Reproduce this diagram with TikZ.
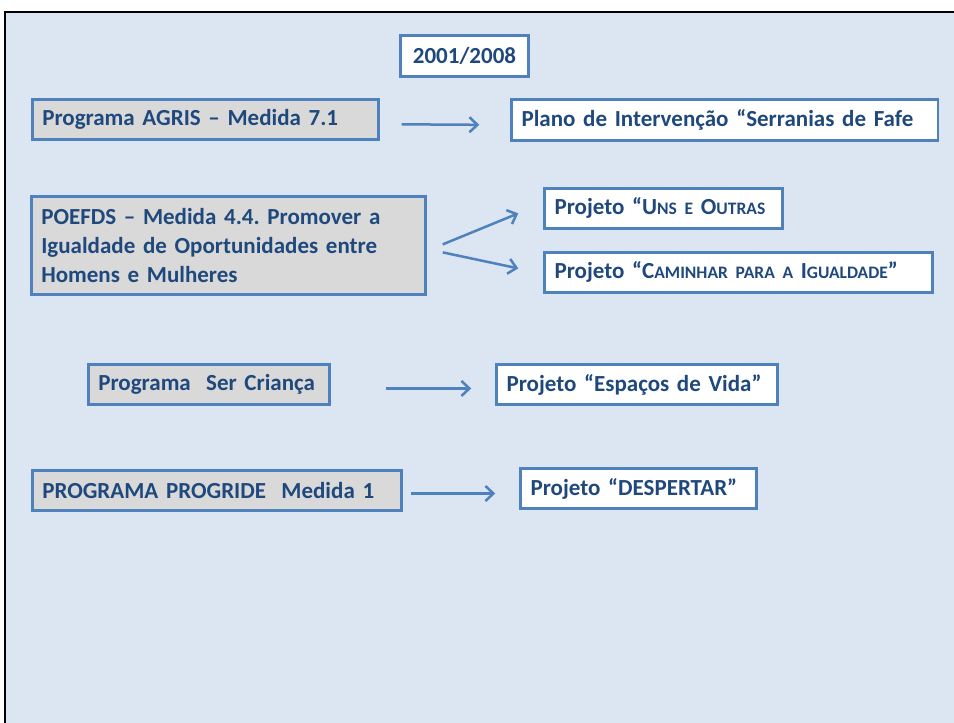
\documentclass[tikz,border=0pt]{standalone}
\usepackage{fontspec}
\setmainfont{Carlito}
\usetikzlibrary{arrows.meta}
\definecolor{slidebg}{HTML}{DCE6F2}
\definecolor{boxline}{HTML}{4F81BD}
\definecolor{txt}{HTML}{1F497D}
\definecolor{gbox}{HTML}{D9D9D9}
\newcommand{\fsc}[1]{{\fontsize{17.5}{20}\selectfont #1}}
\begin{document}
\frenchspacing
\begin{tikzpicture}[x=1pt,y=-1pt,
  bx/.style={draw=boxline, line width=2.5pt, anchor=north west, inner xsep=10pt, inner ysep=0pt,
    font=\bfseries\fontsize{23}{29}\selectfont, text=txt, align=left},
  gb/.style={bx, fill=gbox},
  wb/.style={bx, fill=white},
  arr/.style={draw=boxline, line width=2.5pt, -{Straight Barb[length=8pt,width=15pt]}}]
\useasboundingbox (0,0) rectangle (953.5,722);
\fill[white] (-5,-5) rectangle (965,730);
\fill[slidebg] (5,12) rectangle (965,730);
\draw[black, line width=2pt] (5,730) -- (5,12) -- (965,12);

\node[wb, align=center, text width=108pt, minimum height=41pt] (yr) at (399,34) {2001/2008};

\node[gb, text width=326pt, minimum height=40pt] (agris) at (31,98) {Programa AGRIS – Medida 7.1};
\node[wb, text width=406pt, minimum height=41pt] (plano) at (510,98) {Plano de Intervenção “Serranias de Fafe};

\node[gb, text width=374pt, minimum height=98pt] (poefds) at (30,195) {POEFDS – Medida 4.4. Promover a\\Igualdade de Oportunidades entre\\Homens e Mulheres};
\node[wb, text width=218pt, minimum height=40pt] (uns) at (543,187) {Projeto “U\fsc{NS E} O\fsc{UTRAS}};
\node[wb, text width=368pt, minimum height=40pt] (cam) at (543,251) {Projeto “C\fsc{AMINHAR PARA A} I\fsc{GUALDADE}”};

\node[gb, text width=221pt, minimum height=40pt] (ser) at (87,363) {Programa~~Ser Criança};
\node[wb, text width=261pt, minimum height=40pt] (esp) at (495,363) {Projeto “Espaços de Vida”};

\node[gb, text width=349pt, minimum height=40pt] (prog) at (31,469) {PROGRAMA PROGRIDE~~Medida 1};
\node[wb, text width=216pt, minimum height=40pt] (desp) at (519,467) {Projeto “DESPERTAR”};

\draw[arr] ([shift={(22,5)}]agris.east) -- ([shift={(-31,5)}]plano.west);
\draw[arr] ([shift={(16,-1)}]poefds.east) -- ([shift={(-25,5)}]uns.west);
\draw[arr] ([shift={(16,7)}]poefds.east) -- ([shift={(-25,-4)}]cam.west);
\draw[arr] ([shift={(55,4)}]ser.east) -- ([shift={(-24,4)}]esp.west);
\draw[arr] ([shift={(8,3)}]prog.east) -- ([shift={(-24,5)}]desp.west);
\end{tikzpicture}
\end{document}
